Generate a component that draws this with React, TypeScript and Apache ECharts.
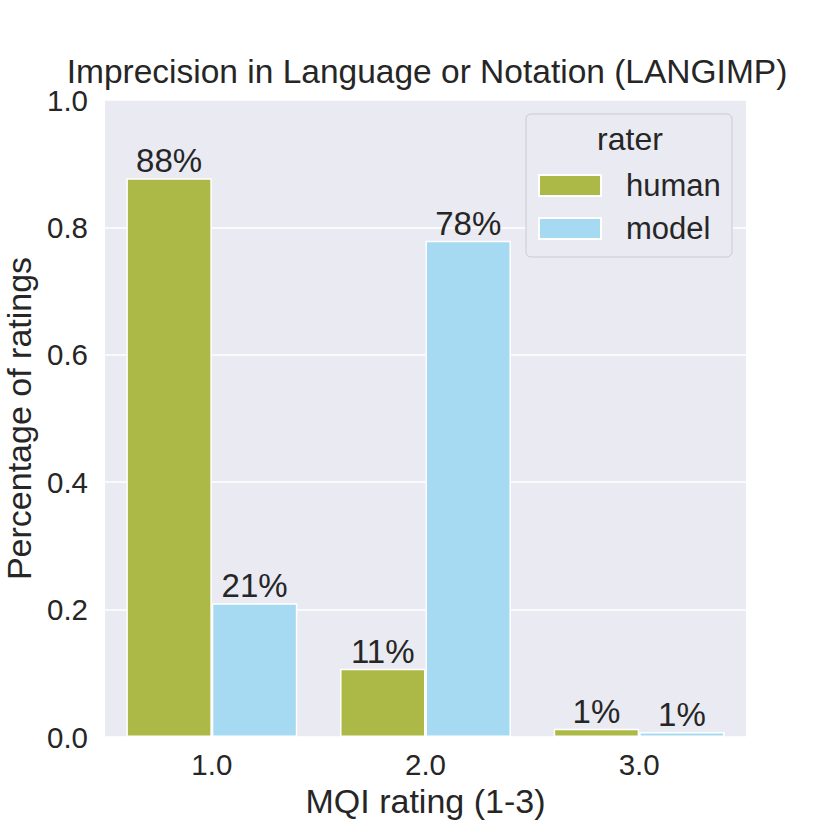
import React, { useEffect, useRef } from "react";
import * as echarts from "echarts";

const categories = ["1.0", "2.0", "3.0"];
const humanValues = [0.877, 0.107, 0.013];
const modelValues = [0.21, 0.779, 0.008];
const yTicks = [0, 0.2, 0.4, 0.6, 0.8, 1.0];
const seriesNames = ["human", "model"];

const FONT = "'Liberation Sans', Arial, Helvetica, sans-serif";
const TEXT = "#262626";

export default function App() {
  const ref = useRef<HTMLDivElement>(null);
  useEffect(() => {
    document.body.style.margin = "0";
    const chart = echarts.init(ref.current!, null, { renderer: "svg" });
    const label = {
      show: true,
      position: "top",
      distance: 1,
      fontSize: 33,
      fontFamily: FONT,
      color: TEXT,
      formatter: (p: any) => Math.round(p.value * 100) + "%",
    };
    chart.setOption({
      animation: false,
      backgroundColor: "#ffffff",
      textStyle: { fontFamily: FONT, color: TEXT },
      title: {
        text: "Imprecision in Language or Notation (LANGIMP)",
        left: 427,
        top: 54,
        padding: 0,
        textAlign: "center",
        textStyle: { fontSize: 33.5, fontWeight: "normal", color: TEXT, fontFamily: FONT },
      },
      grid: {
        left: 105,
        right: 84,
        top: 100,
        bottom: 93,
        show: true,
        backgroundColor: "#eaeaf2",
        borderWidth: 0,
        containLabel: false,
        outerBoundsMode: "none",
      },
      legend: {
        orient: "vertical",
        left: 538,
        top: 170,
        padding: 0,
        itemWidth: 62,
        itemHeight: 21,
        itemGap: 12,
        icon: "rect",
        data: seriesNames,
        textStyle: {
          fontSize: 31,
          color: TEXT,
          fontFamily: FONT,
          padding: [0, 0, 0, 20],
        },
        z: 4,
      },
      graphic: [
        {
          type: "rect",
          shape: { x: 526, y: 114, width: 206, height: 143, r: 5 },
          style: { fill: "#eaeaf2", stroke: "#cccccc", lineWidth: 1 },
          z: 3,
        },
        {
          type: "text",
          x: 630,
          y: 139,
          style: {
            text: "rater",
            fontSize: 32,
            fontFamily: FONT,
            fill: TEXT,
            align: "center",
            verticalAlign: "middle",
          },
          z: 5,
        },
      ],
      xAxis: {
        type: "category",
        data: categories,
        name: "MQI rating (1-3)",
        nameLocation: "middle",
        nameGap: 35,
        nameTextStyle: { fontSize: 34, color: TEXT, fontFamily: FONT },
        axisLine: { show: false },
        axisTick: { show: false },
        axisLabel: { fontSize: 29.5, color: TEXT, fontFamily: FONT, margin: 12 },
        splitLine: { show: false },
      },
      yAxis: {
        type: "value",
        min: yTicks[0],
        max: yTicks[yTicks.length - 1],
        interval: 0.2,
        name: "Percentage of ratings",
        nameLocation: "middle",
        nameGap: 63,
        nameTextStyle: { fontSize: 34, color: TEXT, fontFamily: FONT },
        axisLine: { show: false },
        axisTick: { show: false },
        axisLabel: {
          fontSize: 29.5,
          color: TEXT,
          fontFamily: FONT,
          margin: 17,
          formatter: (v: number) => v.toFixed(1),
        },
        splitLine: { show: true, lineStyle: { color: "#ffffff", width: 1.5 } },
      },
      series: [
        {
          name: seriesNames[0],
          type: "bar",
          data: humanValues,
          barGap: "0%",
          barCategoryGap: "20%",
          itemStyle: { color: "#adb947", borderColor: "#ffffff", borderWidth: 1.5 },
          label,
        },
        {
          name: seriesNames[1],
          type: "bar",
          data: modelValues,
          barGap: "0%",
          barCategoryGap: "20%",
          itemStyle: { color: "#a6daf3", borderColor: "#ffffff", borderWidth: 1.5 },
          label,
        },
      ],
    });
    return () => chart.dispose();
  }, []);
  return <div ref={ref} style={{ width: 830, height: 830 }} />;
}
